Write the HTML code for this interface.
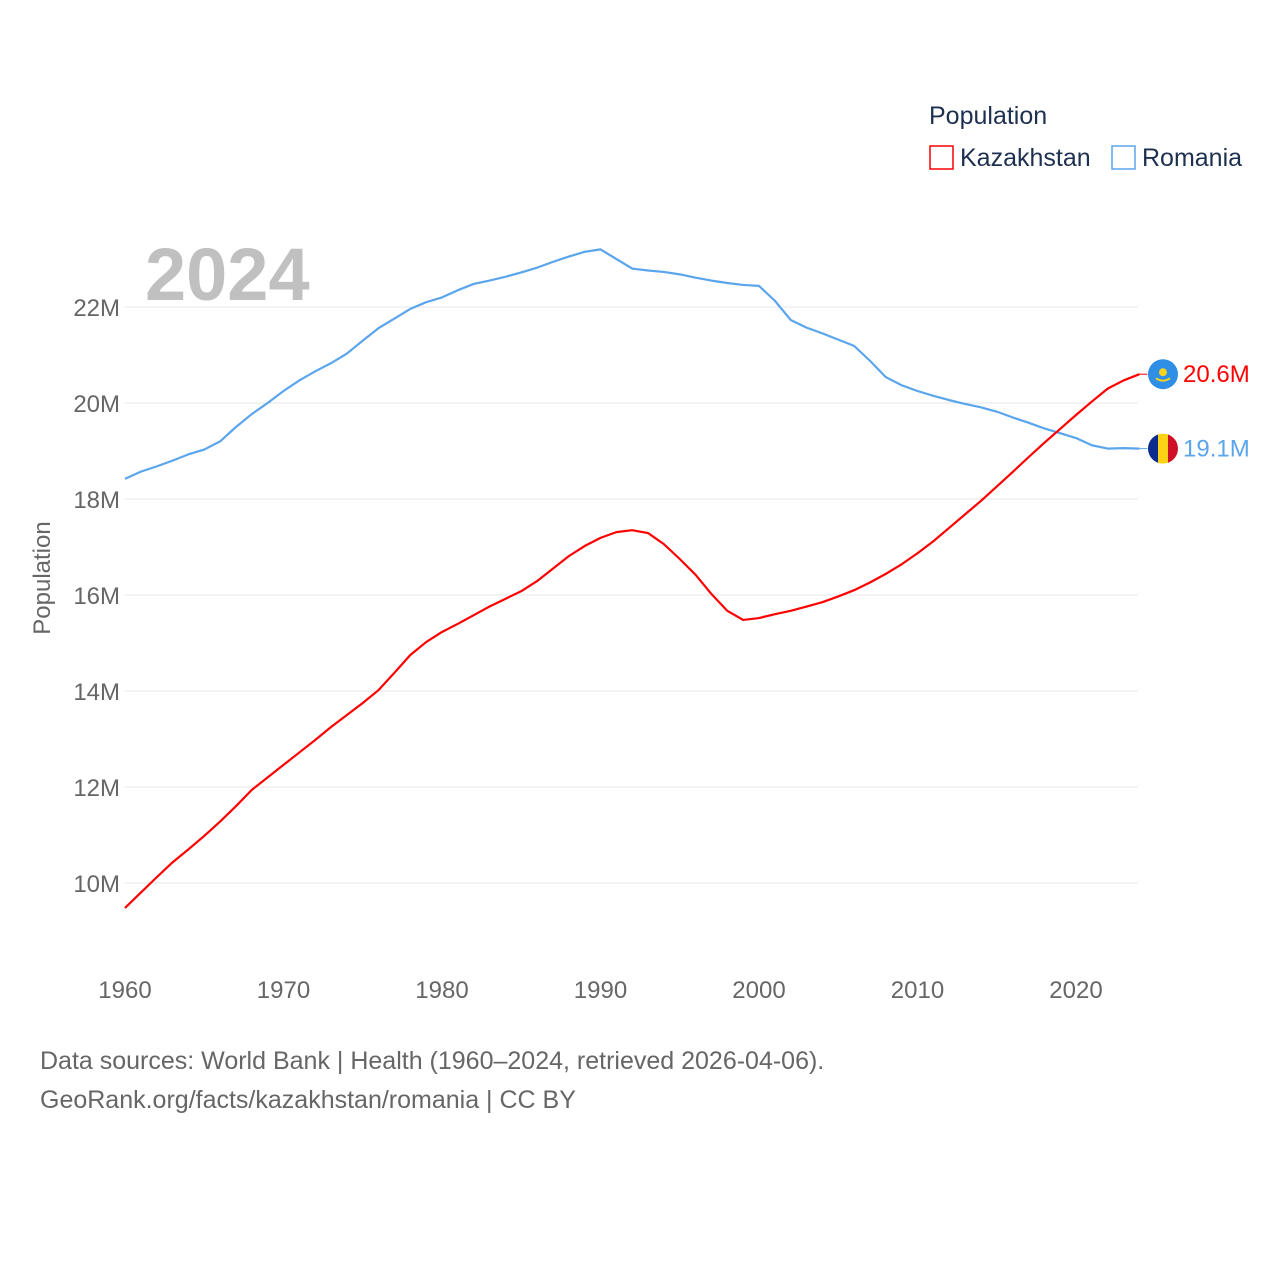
<!DOCTYPE html>
<html><head><meta charset="utf-8"><style>
body{margin:0;background:#fff;width:1280px;height:1280px;overflow:hidden;font-family:"Liberation Sans",sans-serif}
svg text{font-family:"Liberation Sans",sans-serif}
</style></head><body>
<svg id="chart" width="1280" height="1280">
<text x="929" y="124" font-size="25" fill="#1d3050">Population</text>
<g><rect x="930" y="146" width="23" height="23" fill="none" stroke="#ff0000" stroke-width="1.5"/><text x="960" y="166" font-size="25" fill="#1d3050">Kazakhstan</text></g>
<g><rect x="1112" y="146" width="23" height="23" fill="none" stroke="#5aa5ec" stroke-width="1.5"/><text x="1142" y="166" font-size="25" fill="#1d3050">Romania</text></g>
<text x="145" y="300" font-size="74" font-weight="bold" fill="#c0c0c0">2024</text>
<text transform="translate(50,578) rotate(-90)" text-anchor="middle" font-size="24" fill="#666">Population</text>
<g id="grid"></g><g id="yt"></g><g id="xt"></g><g id="series"></g><g id="ends"></g>
<text x="40" y="1069" font-size="25" fill="#666">Data sources: World Bank | Health (1960–2024, retrieved 2026-04-06).</text>
<text x="40" y="1108" font-size="25" fill="#666">GeoRank.org/facts/kazakhstan/romania | CC BY</text>
</svg>
<script>
const years=[];for(let y=1960;y<=2024;y++)years.push(y);
const kazakhstan=[9.48,9.8,10.12,10.43,10.7,10.98,11.28,11.6,11.94,12.2,12.46,12.72,12.98,13.25,13.5,13.75,14.02,14.38,14.75,15.02,15.23,15.4,15.58,15.76,15.92,16.08,16.29,16.55,16.81,17.02,17.19,17.31,17.35,17.29,17.06,16.75,16.42,16.02,15.67,15.48,15.52,15.6,15.67,15.76,15.85,15.97,16.1,16.26,16.44,16.64,16.87,17.12,17.4,17.68,17.96,18.26,18.56,18.87,19.17,19.46,19.75,20.03,20.3,20.47,20.6];
const romania=[18.42,18.57,18.68,18.8,18.93,19.03,19.2,19.5,19.77,20.0,20.25,20.47,20.66,20.83,21.03,21.3,21.56,21.76,21.96,22.1,22.2,22.35,22.48,22.55,22.63,22.72,22.82,22.94,23.05,23.15,23.2,23.0,22.8,22.76,22.73,22.68,22.61,22.55,22.5,22.46,22.44,22.13,21.73,21.57,21.45,21.32,21.19,20.88,20.54,20.37,20.25,20.15,20.06,19.98,19.91,19.82,19.7,19.59,19.47,19.37,19.27,19.12,19.05,19.06,19.05];
const yTicks=[10,12,14,16,18,20,22];
const xTicks=[1960,1970,1980,1990,2000,2010,2020];
const NS="http://www.w3.org/2000/svg";
const X=y=>125+(y-1960)*15.85, Y=v=>883-(v-10)*48;
function mk(t,a,p){const e=document.createElementNS(NS,t);for(const k in a)e.setAttribute(k,a[k]);p.appendChild(e);return e;}
const g=document.getElementById('grid'),yt=document.getElementById('yt'),xt=document.getElementById('xt'),s=document.getElementById('series'),en=document.getElementById('ends');
yTicks.forEach(v=>{const l=mk('line',{x1:125,x2:1138,y1:Y(v),y2:Y(v),stroke:'#e6e6e6'},g);


const t=mk('text',{x:120,y:Y(v)+9,'text-anchor':'end','font-size':24,fill:'#666'},yt);t.textContent=v+'M';

});
xTicks.forEach(v=>{const t=mk('text',{x:X(v),y:998,'text-anchor':'middle','font-size':24,fill:'#666'},xt);t.textContent=v;

});
function line(d,c,n){const p=mk('polyline',{points:d.map((v,i)=>X(years[i])+','+Y(v)).join(' '),fill:'none',stroke:c,'stroke-width':2.2,'stroke-linejoin':'round'},s);

}
line(romania,'#5aa5ec','romania-line');line(kazakhstan,'#ff0000','kazakhstan-line');
function end(d,c,n,flag){const v=d[d.length-1],y=Y(v),x=X(2024);
mk('line',{x1:x,x2:x+8,y1:y,y2:y,stroke:c,'stroke-width':1},en);
const gg=mk('g',{},en);


flag(gg,1163,y);
const t=mk('text',{x:1183,y:y+8,'font-size':24,fill:c},en);t.textContent=v.toFixed(1)+'M';

}
end(kazakhstan,'#ff0000','kazakhstan',(p,cx,cy)=>{mk('circle',{cx,cy,r:15,fill:'#2f8ee6'},p);mk('circle',{cx,cy:cy-2,r:4,fill:'#f7d21f'},p);mk('path',{d:`M${cx-7} ${cy+4} Q${cx} ${cy+9} ${cx+7} ${cy+4}`,stroke:'#f7d21f','stroke-width':2,fill:'none'},p);});
end(romania,'#5aa5ec','romania',(p,cx,cy)=>{const cp=mk('clipPath',{id:'rc'},p);mk('circle',{cx,cy,r:15},cp);const gr=mk('g',{'clip-path':'url(#rc)'},p);mk('rect',{x:cx-15,y:cy-15,width:10,height:30,fill:'#0b2b8f'},gr);mk('rect',{x:cx-5,y:cy-15,width:10,height:30,fill:'#fcd116'},gr);mk('rect',{x:cx+5,y:cy-15,width:10,height:30,fill:'#ce1126'},gr);});
</script>
</body></html>
